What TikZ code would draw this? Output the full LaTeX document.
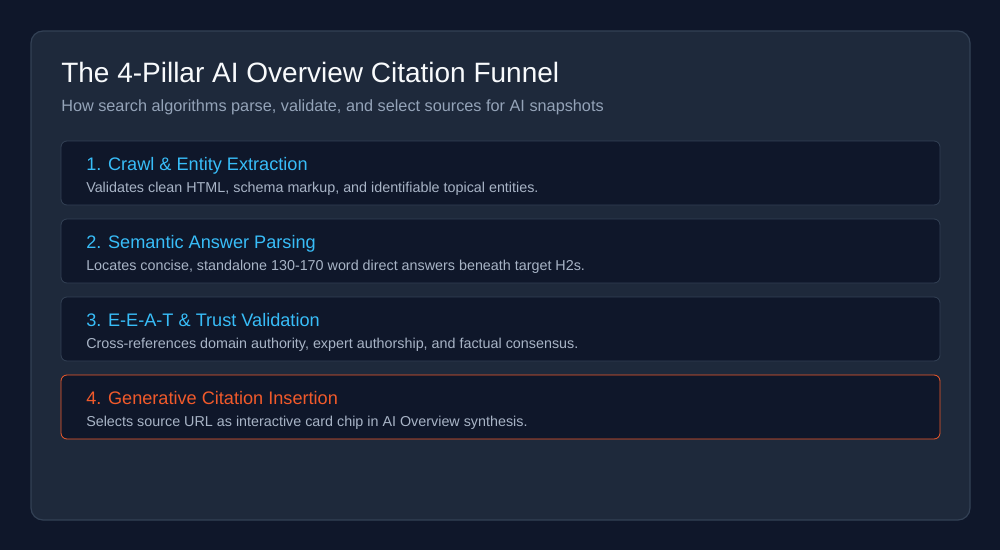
\documentclass[tikz,border=0pt]{standalone}
\usepackage{fontspec}
\setmainfont{Liberation Sans}
\definecolor{pagebg}{HTML}{0F172A}
\definecolor{panelbg}{HTML}{1E293B}
\definecolor{panelline}{HTML}{334155}
\definecolor{cardbg}{HTML}{0F172A}
\definecolor{titlecol}{HTML}{F8FAFC}
\definecolor{subcol}{HTML}{94A3B8}
\definecolor{headcol}{HTML}{38BDF8}
\definecolor{desccol}{HTML}{A8B4C6}
\definecolor{hotcol}{HTML}{F15A2B}
\tikzset{
  card/.style = {draw = panelline, fill = cardbg, rounded corners = 4.5pt, line width = 0.6pt},
  hotcard/.style = {card, draw = hotcol},
  head/.style = {anchor = base west, inner sep = 0pt, text = headcol, font = \fontsize{13.6}{15}\selectfont},
  desc/.style = {anchor = base west, inner sep = 0pt, text = desccol, font = \fontsize{10.75}{12}\selectfont}
}
\begin{document}
\begin{tikzpicture}[x = 0.75pt, y = -0.75pt]
\useasboundingbox [fill = pagebg] (0,0) rectangle (1000,550);
\draw [fill = panelbg, draw = panelline, rounded corners = 9pt, line width = 0.9pt] (31,31) rectangle (970,520);
\node [anchor = base west, inner sep = 0pt, text = titlecol, font = \fontsize{21}{24}\selectfont] (title) at (61,82.5) {The 4-Pillar AI Overview Citation Funnel};
\node [anchor = base west, inner sep = 0pt, text = subcol, font = \fontsize{12.2}{14}\selectfont] (subtitle) at (61,111) {How search algorithms parse, validate, and select sources for AI snapshots};
% pillars
\draw [card] (61,141) rectangle (940,205);
\node [head] (crawl) at (86,170) {1. Crawl \& Entity Extraction};
\node [desc] (crawldesc) at (86,192.3) {Validates clean HTML, schema markup, and identifiable topical entities.};
\draw [card] (61,219) rectangle (940,283);
\node [head] (parse) at (86,248) {2. Semantic Answer Parsing};
\node [desc] (parsedesc) at (86,270.3) {Locates concise, standalone 130-170 word direct answers beneath target H2s.};
\draw [card] (61,297) rectangle (940,361);
\node [head] (trust) at (86,326) {3. E-E-A-T \& Trust Validation};
\node [desc] (trustdesc) at (86,348.3) {Cross-references domain authority, expert authorship, and factual consensus.};
\draw [hotcard] (61,375) rectangle (940,439);
\node [head, text = hotcol] (cite) at (86,404) {4. Generative Citation Insertion};
\node [desc] (citedesc) at (86,426.3) {Selects source URL as interactive card chip in AI Overview synthesis.};
\end{tikzpicture}
\end{document}
